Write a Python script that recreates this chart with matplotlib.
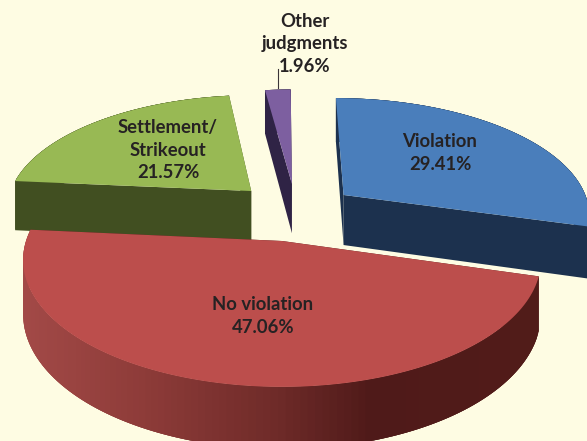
import numpy as np
import matplotlib
matplotlib.use("Agg")
import matplotlib.pyplot as plt

labels = ["Violation", "No violation", "Settlement/\nStrikeout", "Other\njudgments"]
shares = [29.41, 47.06, 21.57, 1.96]

# layout of the tilted pie, in pixels of the 587x441 picture
cx, cy = 282, 241
rx, ry = 256, 124
persp = 0.15
depth = 53
explode = [(0.2546, 0.393), (0, 0), (-0.128, 0.429), (0.0416, 0.495)]
label_pos = [(440, 153), (263, 316), (168, 150), (305, 44)]
top_colors = ["#4a7ebb", "#bc4e4c", "#98b954", "#7d5fa0"]
wall_colors = ["#1c314e", "#4f1a19", "#414f21", "#2f2345"]
red_wall_x = [20, 150, 280, 370, 560]
red_wall_rgb = [(0.64, 0.29, 0.28), (0.55, 0.23, 0.22), (0.43, 0.165, 0.157),
                (0.31, 0.102, 0.098), (0.32, 0.11, 0.10)]


def project(theta, r, off):
    # theta is clockwise from the far side of the pie, in radians
    u = off[0] + r * np.sin(theta)
    v = off[1] + r * np.cos(theta)
    s = 1 / (1 + persp * v)
    return cx + rx * s * u, cy - ry * s * v, s


def extrude(x, y, s):
    return x, y + depth * s


fig = plt.figure(figsize=(5.87, 4.41), dpi=100, facecolor="#fefce3")
ax = fig.add_axes([0, 0, 1, 1])
ax.set_xlim(0, 587)
ax.set_ylim(441, 0)
ax.axis("off")

edges = np.radians(np.cumsum([0] + shares) * 3.6)
slices = {}
for i in range(len(shares)):
    theta = np.linspace(edges[i], edges[i + 1], 121)
    slices[i] = (theta, explode[i])


def draw_slice(i):
    theta, off = slices[i]
    ax_, ay_, as_ = project(0.0, 0.0, off)
    ox, oy, os_ = project(theta, 1.0, off)

    # flat cut faces
    for t in (theta[0], theta[-1]):
        ex, ey, es = project(t, 1.0, off)
        bx, by = extrude(ex, ey, es)
        bax, bay = extrude(ax_, ay_, as_)
        ax.fill([ex, bx, bax, ax_], [ey, by, bay, ay_], color=wall_colors[i], lw=0)

    # outer rim, split in strips that overlap so no seams show
    for j in range(len(theta) - 1):
        k = min(j + 3, len(theta) - 1)
        xs = [ox[j], ox[k], ox[k], ox[j]]
        ys = [oy[j], oy[k], oy[k] + depth * os_[k], oy[j] + depth * os_[j]]
        if i == 1:
            mid = (ox[j] + ox[j + 1]) / 2
            col = [np.interp(mid, red_wall_x, [c[n] for c in red_wall_rgb]) for n in range(3)]
        else:
            col = wall_colors[i]
        ax.fill(xs, ys, color=col, lw=0)

    # top face
    ax.fill(np.r_[ax_, ox], np.r_[ay_, oy], color=top_colors[i], lw=0)


for i in (2, 3, 0, 1):
    draw_slice(i)

# leader line for the small slice
ax.plot([278, 278], [88, 69], color="#3a3438", lw=0.8)

for i in range(len(labels)):
    text = labels[i] + "\n" + "%.2f%%" % shares[i]
    ax.text(label_pos[i][0], label_pos[i][1], text, ha="center", va="center",
            family="Lato", fontweight="bold", fontsize=13.3, color="#262223",
            linespacing=1.42)

fig.savefig("out.png", dpi=100, facecolor=fig.get_facecolor())
